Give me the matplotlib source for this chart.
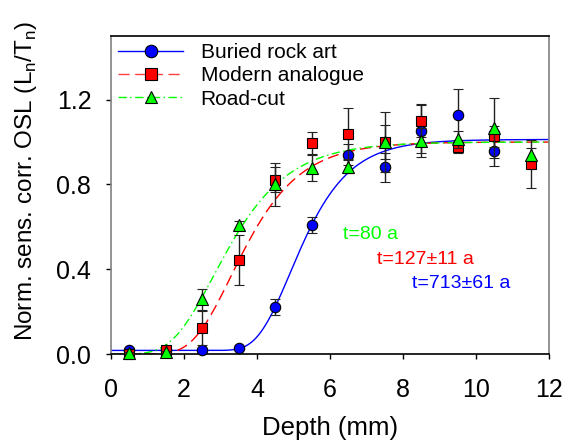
import numpy as np
import matplotlib
matplotlib.use('Agg')
import matplotlib.pyplot as plt

plt.rcParams['font.family'] = ['Liberation Sans', 'DejaVu Sans']
plt.rcParams['mathtext.fontset'] = 'custom'
plt.rcParams['mathtext.rm'] = 'Liberation Sans'

# depth of each slice (mm)
depth = [0.5, 1.5, 2.5, 3.5, 4.5, 5.5, 6.5, 7.5, 8.5, 9.5, 10.5, 11.5]

# buried rock art (no value at 11.5)
rock_x = depth[:11]
rock_y = [0.019, 0.02, 0.019, 0.03, 0.223, 0.609, 0.94, 0.88, 1.054, 1.129, 0.956]
rock_err = [0.005, 0.005, 0.005, 0.005, 0.037, 0.037, 0.05, 0.07, 0.125, 0.12, 0.07]

# modern analogue
mod_y = [0.0, 0.02, 0.124, 0.444, 0.822, 0.995, 1.04, 1.0, 1.10, 0.975, 1.027, 0.896]
mod_err = [0.005, 0.01, 0.08, 0.117, 0.06, 0.05, 0.12, 0.14, 0.075, 0.025, 0.05, 0.115]

# road-cut
road_y = [0.005, 0.01, 0.258, 0.609, 0.80, 0.877, 0.883, 1.0, 1.006, 1.014, 1.066, 0.94]
road_err = [0.005, 0.005, 0.05, 0.02, 0.10, 0.06, 0.03, 0.08, 0.06, 0.04, 0.14, 0.03]

# fitted bleaching model y = base + amp*exp(-k*exp(-mu*x))
fit_rock = (0.017, 0.995, 231.7, 1.109)
fit_mod = (0.0, 1.0, 22.8, 0.95)
fit_road = (0.0, 1.0, 11.75, 0.877)

ages = ['t=80 a', 't=127\u00b111 a', 't=713\u00b161 a']


def model(x, p):
    b, a, k, mu = p
    return b + a * np.exp(-k * np.exp(-mu * x))


fig = plt.figure(figsize=(5.66, 4.42), dpi=100)
ax = fig.add_axes([0.196, 0.199, 0.774, 0.7196])

xx = np.linspace(0, 12, 400)
ax.plot(xx, model(xx, fit_rock), color='#0000ff', lw=1, zorder=2)
ax.plot(xx, model(xx, fit_mod), color='#ff0000', lw=1, dashes=(8, 4), zorder=2)
ax.plot(xx, model(xx, fit_road), color='#00ff00', lw=1, dashes=(6, 2.5, 1, 2.5), zorder=2)

eb = dict(ecolor='#222222', elinewidth=1, capsize=3.6, capthick=1, ls='none',
          mec='black', mew=0.8, clip_on=False)
ax.errorbar(rock_x, rock_y, yerr=rock_err, fmt='o', ms=7.5, mfc='#0000ff', zorder=3, **eb)
ax.errorbar(depth, mod_y, yerr=mod_err, fmt='s', ms=7.5, mfc='#ff0000', zorder=4, **eb)
ax.errorbar(depth, road_y, yerr=road_err, fmt='^', ms=8.5, mfc='#00ff00', zorder=5, **eb)

# legend handles
h1, = ax.plot([], [], color='#0000ff', lw=1, marker='o', ms=9, mfc='#0000ff', mec='black', mew=0.8)
h2, = ax.plot([], [], color='#ff4040', lw=1, dashes=(8, 4), marker='s', ms=8, mfc='#ff0000', mec='black', mew=0.8)
h3, = ax.plot([], [], color='#00ff00', lw=1, dashes=(6, 2.5, 1, 2.5), marker='^', ms=9, mfc='#00ff00', mec='black', mew=0.8)
ax.legend([h1, h2, h3], ['Buried rock art', 'Modern analogue', 'Road-cut'],
          loc='upper left', bbox_to_anchor=(0.0, 1.0), frameon=False, fontsize=15,
          handlelength=3.1, handletextpad=0.85, labelspacing=0.2, borderpad=0.35,
          borderaxespad=0.0, markerscale=1)

ax.text(6.36, 0.562, ages[0], color='#00ff00', fontsize=14, va='center')
ax.text(7.29, 0.444, ages[1], color='#ff0000', fontsize=14, va='center')
ax.text(8.25, 0.335, ages[2], color='#0000ff', fontsize=14, va='center')

ax.set_xlim(0, 12)
ax.set_ylim(0, 1.5)
ax.set_xticks([0, 2, 4, 6, 8, 10, 12])
ax.set_yticks([0.0, 0.4, 0.8, 1.2])
ax.set_yticklabels(['0.0', '0.4', '0.8', '1.2'])
ax.tick_params(axis='both', direction='out', length=3.6, width=1, labelsize=18)
ax.tick_params(axis='x', pad=13.5)
ax.tick_params(axis='y', pad=10.5)
ax.tick_params(top=False, right=False)

ax.spines['left'].set_color('#808080')
ax.spines['right'].set_color('#808080')
ax.spines['top'].set_color('black')
ax.spines['bottom'].set_color('black')
for s in ax.spines.values():
    s.set_linewidth(1.2)

ax.set_xlabel('Depth (mm)', fontsize=18.5, labelpad=10.5)
ax.set_ylabel(r'Norm. sens. corr. OSL (L$_\mathregular{n}$/T$_\mathregular{n}$)', fontsize=17.5)
ax.yaxis.set_label_coords(-0.165, 0.545)

fig.savefig('out.png', dpi=100)
